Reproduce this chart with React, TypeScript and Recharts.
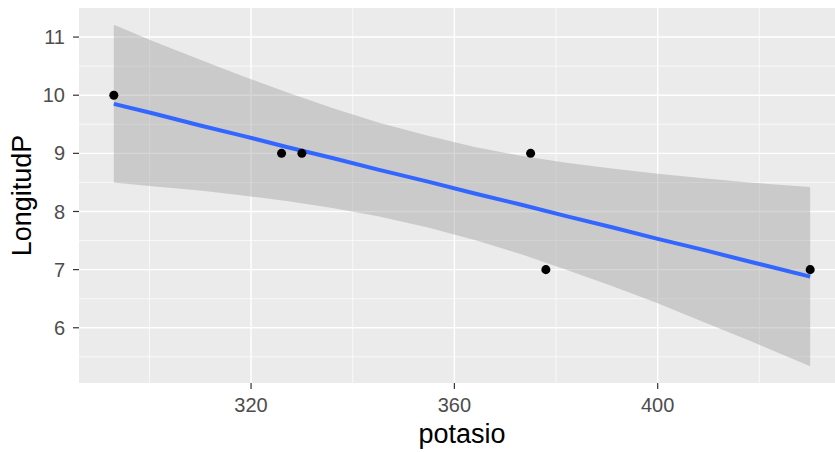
import {
  Area,
  CartesianGrid,
  ComposedChart,
  Label,
  Line,
  Scatter,
  XAxis,
  YAxis,
} from "recharts";

// observed points
const potasio = [293, 326, 330, 375, 378, 430];
const longitud = [10, 9, 9, 9, 7, 7];

// smooth (lm) line and its 95% band
const fitX = [293, 301, 310, 318, 327, 336, 345, 355, 364, 373, 382, 391, 400, 409, 418, 430];
const fitY = [9.85, 9.68, 9.48, 9.31, 9.11, 8.92, 8.72, 8.51, 8.31, 8.12, 7.92, 7.73, 7.53, 7.34, 7.14, 6.88];
const bandLow = [8.5, 8.43, 8.36, 8.28, 8.18, 8.06, 7.92, 7.72, 7.51, 7.27, 7.0, 6.72, 6.42, 6.1, 5.78, 5.34];
const bandHigh = [11.21, 10.92, 10.61, 10.34, 10.05, 9.78, 9.53, 9.3, 9.11, 8.96, 8.84, 8.74, 8.65, 8.57, 8.5, 8.42];

const xTicks = [320, 360, 400];
const xMinor = [300, 340, 380, 420];
const yTicks = [6, 7, 8, 9, 10, 11];
const yMinor = [5.5, 6.5, 7.5, 8.5, 9.5, 10.5];

const smoothData = fitX.map((x, i) => ({
  x,
  fit: fitY[i],
  band: [bandLow[i], bandHigh[i]],
}));
const pointData = potasio.map((x, i) => ({ x, y: longitud[i] }));

const font = "'Liberation Sans', Arial, sans-serif";
const tickStyle = { fill: "#4D4D4D", fontSize: 20, fontFamily: font };

const App = () => {
  return (
    <div
      style={{
        position: "absolute",
        left: 0,
        top: 0,
        width: 835,
        height: 452,
        overflow: "hidden",
        background: "white",
      }}
    >
      <ComposedChart
        width={860}
        height={452}
        data={smoothData}
        margin={{ top: 8, right: 15, bottom: 0, left: 0 }}
      >
        <CartesianGrid
          fill="#EBEBEB"
          stroke="#FFFFFF"
          strokeWidth={0.7}
          horizontalValues={yMinor}
          verticalValues={xMinor}
        />
        <CartesianGrid
          stroke="#FFFFFF"
          strokeWidth={1.4}
          horizontalValues={yTicks}
          verticalValues={xTicks}
        />
        <XAxis
          dataKey="x"
          type="number"
          domain={[286.15, 436.85]}
          allowDataOverflow
          ticks={xTicks}
          tick={tickStyle}
          tickSize={6}
          tickMargin={9}
          tickLine={{ stroke: "#333333", strokeWidth: 1.2 }}
          axisLine={false}
          height={69}
        >
          <Label
            value="potasio"
            position="insideBottom"
            offset={9}
            style={{ fill: "#000000", fontSize: 27, fontFamily: font }}
          />
        </XAxis>
        <YAxis
          type="number"
          domain={[5.05, 11.5]}
          allowDataOverflow
          ticks={yTicks}
          tick={tickStyle}
          tickSize={6}
          tickMargin={8}
          tickLine={{ stroke: "#333333", strokeWidth: 1.2 }}
          axisLine={false}
          width={79}
        >
          <Label
            content={({ viewBox }: any) => {
              const cx = viewBox.x + 31;
              const cy = viewBox.y + viewBox.height / 2;
              return (
                <text
                  x={cx}
                  y={cy}
                  transform={`rotate(-90, ${cx}, ${cy})`}
                  textAnchor="middle"
                  fontSize={27}
                  fontFamily={font}
                  fill="#000000"
                >
                  LongitudP
                </text>
              );
            }}
          />
        </YAxis>
        <Area
          dataKey="band"
          type="linear"
          stroke="none"
          fill="#999999"
          fillOpacity={0.4}
          isAnimationActive={false}
        />
        <Line
          dataKey="fit"
          type="linear"
          stroke="#3366FF"
          strokeWidth={4}
          dot={false}
          activeDot={false}
          isAnimationActive={false}
        />
        <Scatter
          data={pointData}
          dataKey="y"
          fill="#000000"
          isAnimationActive={false}
        />
      </ComposedChart>
    </div>
  );
};

export default App;
